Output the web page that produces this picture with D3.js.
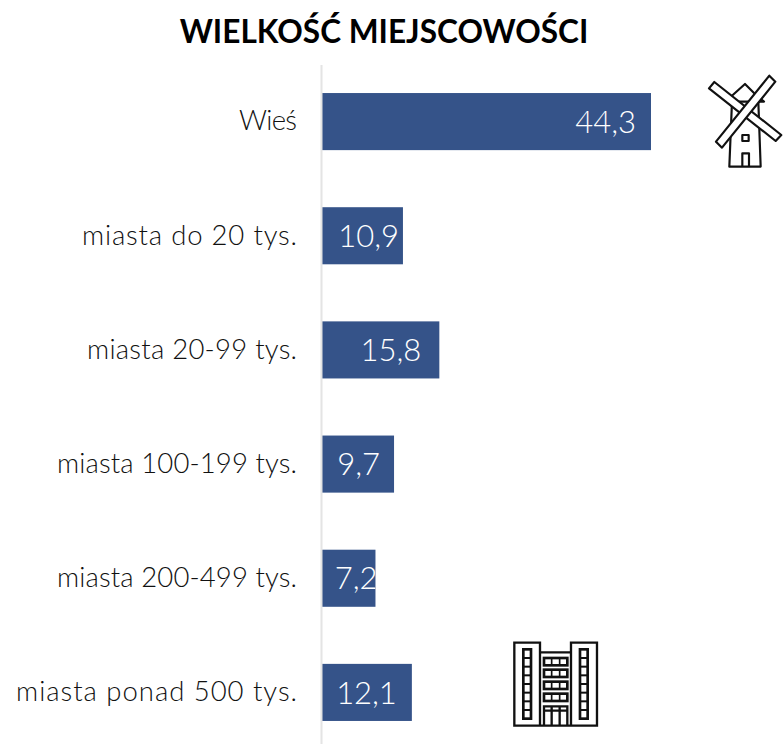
<!DOCTYPE html>
<html>
<head>
<meta charset="utf-8">
<script src="https://cdn.jsdelivr.net/npm/d3@7"></script>
<style>
  html, body { margin: 0; padding: 0; background: #fff; }
  svg { display: block; }
  text { font-family: Lato, "Open Sans", sans-serif; }
</style>
</head>
<body>
<svg id="chart" width="783" height="744"></svg>
<script>
const categories = ['Wieś', 'miasta do 20 tys.', 'miasta 20-99 tys.', 'miasta 100-199 tys.', 'miasta 200-499 tys.', 'miasta ponad 500 tys.'];
const values = [44.3, 10.9, 15.8, 9.7, 7.2, 12.1];

const svg = d3.select('#chart');

let x = d3.scaleLinear().domain([0, 44.3]).range([322, 651]);
let y = d3.scaleBand().domain(categories).range([64.5, 749.5]).paddingInner(0.5).paddingOuter(0.25);

// labels in the original sit by hand, not at one fixed distance from the bar end
const labelInset = [15, 4, 18, 14, -2, 15];
// the original font is wider in letters and narrower in digits than Lato, so fit each label
const labelWidth = [58, 215, 210, 240, 240, 281];

svg.append('text')
  .attr('x', 384)
  .attr('y', 43)
  .attr('text-anchor', 'middle')
  .attr('font-size', 31.6)
  .attr('font-weight', 700)
  .attr('fill', '#000')
  .text('WIELKOŚĆ MIEJSCOWOŚCI');

// bars first, axis line sits just left of them
svg.selectAll('rect.bar')
  .data(values)
  .enter()
  .append('rect')
  .attr('class', 'bar')
  .attr('x', x(0))
  .attr('y', (d, i) => y(categories[i]))
  .attr('width', (d) => x(d) - x(0))
  .attr('height', y.bandwidth())
  .attr('fill', '#355389');

let axis = svg.append('g')
  .attr('transform', 'translate(321,0)')
  .call(d3.axisLeft(y).tickSize(0).tickPadding(24));
axis.select('.domain').attr('stroke', '#e4e4e4').attr('stroke-width', 2);
axis.selectAll('text')
  .attr('font-size', 27.5)
  .attr('font-weight', 300)
  .attr('fill', '#111')
  .attr('textLength', (d, i) => labelWidth[i])
  .attr('lengthAdjust', 'spacing')
  .style('font-family', 'Lato, "Open Sans", sans-serif');

// the 7,2 label runs past its bar in the original and gets cut off
let defs = svg.append('defs');
values.forEach((d, i) => {
  defs.append('clipPath')
    .attr('id', 'clip' + i)
    .append('rect')
    .attr('x', x(0))
    .attr('y', y(categories[i]))
    .attr('width', x(d) - x(0))
    .attr('height', y.bandwidth());
});

svg.selectAll('text.value')
  .data(values)
  .enter()
  .append('text')
  .attr('class', 'value')
  .attr('clip-path', (d, i) => 'url(#clip' + i + ')')
  .attr('x', (d, i) => x(d) - labelInset[i])
  .attr('y', (d, i) => y(categories[i]) + y.bandwidth() / 2)
  .attr('dy', '0.36em')
  .attr('text-anchor', 'end')
  .attr('font-size', 31)
  .attr('font-weight', 300)
  .attr('fill', '#fff')
  .text((d) => d3.format('.1f')(d).replace('.', ','));

// windmill icon, drawn at 3x and scaled down
let mill = svg.append('g')
  .attr('transform', 'translate(690,60) scale(0.3333)')
  .attr('fill', 'none')
  .attr('stroke', '#111')
  .attr('stroke-width', 6.5)
  .attr('stroke-linejoin', 'round');
mill.append('path').attr('d', 'M118 320 L126 125 L205 125 L212 320 Z');
mill.append('path').attr('d', 'M125 108 L165 72 L198 105 L222 125 L205 125');
mill.append('rect').attr('x', 157).attr('y', 225).attr('width', 19).attr('height', 18);
mill.append('path').attr('d', 'M157 320 L157 280 L177 280 L177 320');
mill.append('path').attr('fill', '#fff').attr('d', 'M57 85 L73 66 L274 225 L257 243 Z');
mill.append('path').attr('fill', '#fff').attr('d', 'M78 245 L238 47 L256 65 L96 263 Z');

// block of flats icon
let block = svg.append('g')
  .attr('transform', 'translate(490,630) scale(0.3333)')
  .attr('fill', 'none')
  .attr('stroke', '#111')
  .attr('stroke-width', 7);
block.append('path').attr('d', 'M150 287 L73 287 L73 38 L150 38 L150 287 M243 287 L243 38 L321 38 L321 287 L243 287 M150 67 L243 67 M150 287 L243 287');
[100, 270].forEach((left) => {
  block.append('rect').attr('x', left).attr('y', 58).attr('width', 23).attr('height', 208).attr('stroke-width', 8);
  d3.range(1, 8).forEach((k) => {
    block.append('line')
      .attr('x1', left).attr('x2', left + 23)
      .attr('y1', 58 + k * 26).attr('y2', 58 + k * 26)
      .attr('stroke-width', 6);
  });
});
[84, 119, 155, 191].forEach((top) => {
  block.append('rect').attr('x', 162).attr('y', top).attr('width', 70).attr('height', 22).attr('stroke-width', 8);
  [185, 209].forEach((cx) => {
    block.append('line').attr('x1', cx).attr('x2', cx).attr('y1', top).attr('y2', top + 22).attr('stroke-width', 5);
  });
});
block.append('path').attr('d', 'M162 287 L162 229 L232 229 L232 287 M162 242 L232 242 M185 229 L185 287 M209 229 L209 287');
</script>
</body>
</html>
